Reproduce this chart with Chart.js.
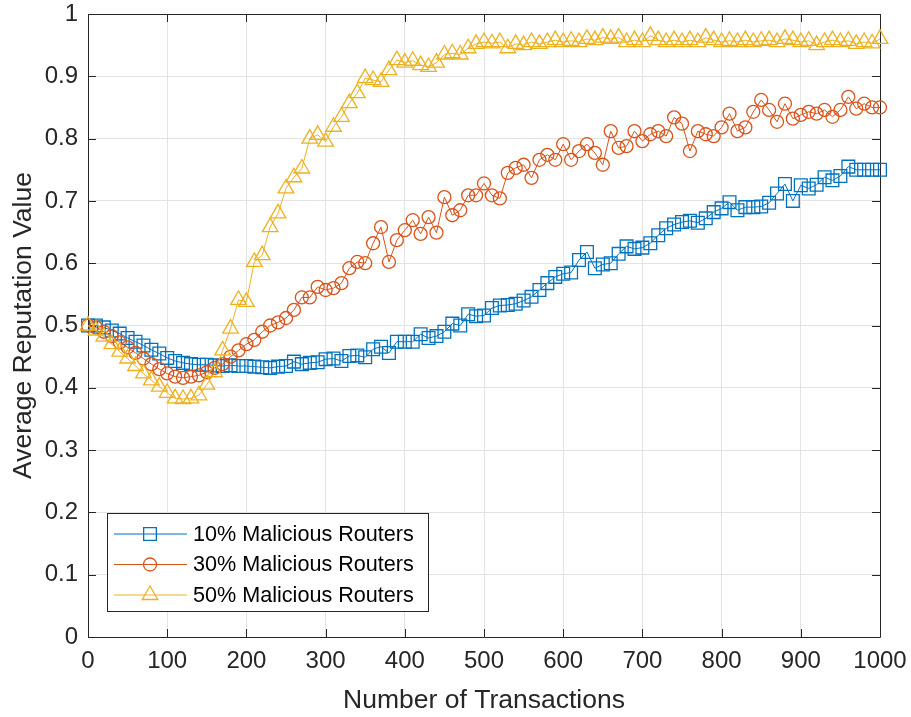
<!DOCTYPE html>
<html>
<head>
<meta charset="utf-8">
<script src="https://cdn.jsdelivr.net/npm/chart.js@4.4.1/dist/chart.umd.min.js"></script>
<style>
  html, body { margin: 0; padding: 0; background: #fff; }
  #wrap { width: 911px; height: 717px; }
</style>
</head>
<body>
<div id="wrap"><canvas id="repChart" width="911" height="717"></canvas></div>
<script>
const transactions = [0, 10, 20, 30, 40, 50, 60, 70, 80, 90, 100, 110, 120, 130, 140, 150, 160, 170, 180, 190,
  200, 210, 220, 230, 240, 250, 260, 270, 280, 290, 300, 310, 320, 330, 340, 350, 360, 370, 380, 390,
  400, 410, 420, 430, 440, 450, 460, 470, 480, 490, 500, 510, 520, 530, 540, 550, 560, 570, 580, 590,
  600, 610, 620, 630, 640, 650, 660, 670, 680, 690, 700, 710, 720, 730, 740, 750, 760, 770, 780, 790,
  800, 810, 820, 830, 840, 850, 860, 870, 880, 890, 900, 910, 920, 930, 940, 950, 960, 970, 980, 990, 1000];

// 10% malicious routers
const mal10 = [0.500, 0.500, 0.497, 0.492, 0.487, 0.480, 0.474, 0.468, 0.461, 0.455,
  0.448, 0.443, 0.440, 0.438, 0.437, 0.437, 0.436, 0.435, 0.436, 0.435,
  0.435, 0.434, 0.433, 0.432, 0.434, 0.435, 0.442, 0.438, 0.440, 0.441,
  0.446, 0.447, 0.443, 0.451, 0.452, 0.449, 0.462, 0.466, 0.456, 0.474,
  0.474, 0.474, 0.486, 0.480, 0.483, 0.490, 0.503, 0.500, 0.518, 0.515,
  0.516, 0.528, 0.532, 0.533, 0.535, 0.540, 0.546, 0.557, 0.568, 0.578,
  0.583, 0.585, 0.605, 0.618, 0.592, 0.598, 0.600, 0.615, 0.627, 0.623,
  0.625, 0.632, 0.645, 0.656, 0.662, 0.666, 0.668, 0.665, 0.672, 0.682,
  0.688, 0.698, 0.685, 0.690, 0.690, 0.691, 0.697, 0.712, 0.727, 0.700,
  0.725, 0.720, 0.726, 0.738, 0.733, 0.740, 0.755, 0.750, 0.750, 0.750, 0.750];

// 30% malicious routers
const mal30 = [0.500, 0.497, 0.490, 0.483, 0.473, 0.465, 0.456, 0.447, 0.438, 0.430,
  0.423, 0.418, 0.416, 0.418, 0.420, 0.425, 0.432, 0.438, 0.450, 0.460,
  0.470, 0.477, 0.490, 0.500, 0.505, 0.512, 0.525, 0.545, 0.545, 0.562,
  0.557, 0.560, 0.568, 0.592, 0.602, 0.600, 0.632, 0.658, 0.602, 0.637,
  0.653, 0.669, 0.647, 0.674, 0.649, 0.706, 0.677, 0.685, 0.709, 0.709,
  0.728, 0.709, 0.704, 0.745, 0.753, 0.758, 0.737, 0.766, 0.774, 0.766,
  0.791, 0.766, 0.780, 0.791, 0.777, 0.758, 0.812, 0.785, 0.788, 0.812,
  0.796, 0.807, 0.812, 0.804, 0.834, 0.824, 0.780, 0.812, 0.807, 0.804,
  0.818, 0.840, 0.812, 0.818, 0.843, 0.862, 0.846, 0.827, 0.856, 0.832,
  0.838, 0.843, 0.840, 0.846, 0.835, 0.846, 0.867, 0.848, 0.856, 0.850, 0.850];

// 50% malicious routers
const mal50 = [0.500, 0.492, 0.482, 0.470, 0.458, 0.447, 0.435, 0.423, 0.412, 0.402,
  0.392, 0.383, 0.382, 0.383, 0.388, 0.405, 0.425, 0.460, 0.495, 0.541,
  0.538, 0.602, 0.613, 0.658, 0.680, 0.720, 0.738, 0.752, 0.800, 0.806,
  0.795, 0.819, 0.835, 0.857, 0.873, 0.897, 0.894, 0.891, 0.910, 0.926,
  0.922, 0.925, 0.918, 0.915, 0.922, 0.935, 0.937, 0.935, 0.945, 0.952,
  0.955, 0.953, 0.955, 0.945, 0.952, 0.950, 0.955, 0.952, 0.955, 0.958,
  0.955, 0.957, 0.955, 0.960, 0.958, 0.962, 0.960, 0.962, 0.955, 0.958,
  0.955, 0.965, 0.958, 0.955, 0.958, 0.955, 0.958, 0.955, 0.962, 0.958,
  0.955, 0.957, 0.955, 0.958, 0.955, 0.957, 0.958, 0.955, 0.960, 0.958,
  0.955, 0.957, 0.950, 0.955, 0.958, 0.955, 0.957, 0.952, 0.955, 0.953, 0.960];

const seriesNames = ['10% Malicious Routers', '30% Malicious Routers', '50% Malicious Routers'];
const xTicks = [0, 100, 200, 300, 400, 500, 600, 700, 800, 900, 1000];
const yTicks = [0, 0.1, 0.2, 0.3, 0.4, 0.5, 0.6, 0.7, 0.8, 0.9, 1];

const FONT = "'Liberation Sans', Arial, Helvetica, sans-serif";
const INK = '#262626';
const colors = ['#0072BD', '#D95319', '#EDB120'];
const shapes = ['rect', 'circle', 'triangle'];
const radii = [9, 6.5, 9];

function toPoints(vals) {
  return transactions.map((t, i) => ({ x: t, y: vals[i] }));
}

const datasets = [mal10, mal30, mal50].map((vals, i) => ({
  label: seriesNames[i],
  data: toPoints(vals),
  borderColor: colors[i],
  backgroundColor: 'rgba(0,0,0,0)',
  borderWidth: 1,
  pointStyle: shapes[i],
  pointRadius: radii[i],
  pointBorderWidth: 1.3,
  pointBorderColor: colors[i],
  pointBackgroundColor: 'rgba(0,0,0,0)',
  tension: 0,
  clip: 14,
  order: 3 - i
}));

// box around the axes plus inward tick marks, matlab style
const boxTicks = {
  id: 'boxTicks',
  beforeDatasetsDraw(chart) {
    const { ctx, chartArea: a, scales } = chart;
    ctx.save();
    ctx.strokeStyle = INK;
    ctx.lineWidth = 1;
    ctx.beginPath();
    ctx.rect(Math.round(a.left) + 0.5, Math.round(a.top) + 0.5,
      Math.round(a.right - a.left), Math.round(a.bottom - a.top));
    ctx.stroke();
    const len = 8;
    ctx.beginPath();
    xTicks.forEach(v => {
      const px = Math.round(scales.x.getPixelForValue(v)) + 0.5;
      ctx.moveTo(px, a.bottom); ctx.lineTo(px, a.bottom - len);
      ctx.moveTo(px, a.top); ctx.lineTo(px, a.top + len);
    });
    yTicks.forEach(v => {
      const py = Math.round(scales.y.getPixelForValue(v)) + 0.5;
      ctx.moveTo(a.left, py); ctx.lineTo(a.left + len, py);
      ctx.moveTo(a.right, py); ctx.lineTo(a.right - len, py);
    });
    ctx.stroke();
    ctx.restore();
  }
};

// legend box in the lower left corner
const innerLegend = {
  id: 'innerLegend',
  afterDraw(chart) {
    const ctx = chart.ctx;
    const bx = 107.5, by = 513.5, bw = 321, bh = 98;
    ctx.save();
    ctx.fillStyle = '#fff';
    ctx.fillRect(bx, by, bw, bh);
    ctx.strokeStyle = INK;
    ctx.lineWidth = 1;
    ctx.strokeRect(bx, by, bw, bh);
    ctx.font = '21.6px ' + FONT;
    ctx.textBaseline = 'middle';
    chart.data.datasets.forEach((ds, i) => {
      const y = 534 + i * 30.5;
      ctx.strokeStyle = ds.borderColor;
      ctx.lineWidth = 1;
      ctx.beginPath();
      ctx.moveTo(114, y); ctx.lineTo(187, y);
      ctx.stroke();
      ctx.lineWidth = 1.3;
      ctx.fillStyle = 'rgba(0,0,0,0)';
      Chart.helpers.drawPoint(ctx, {
        pointStyle: ds.pointStyle, radius: ds.pointRadius, borderWidth: 1.3, rotation: 0
      }, 150, y);
      ctx.fillStyle = '#000';
      ctx.fillText(ds.label, 193, y + 1);
    });
    ctx.restore();
  }
};

new Chart(document.getElementById('repChart').getContext('2d'), {
  type: 'line',
  data: { datasets },
  options: {
    responsive: false,
    animation: false,
    events: [],
    layout: { padding: { top: 14, right: 31, left: 0, bottom: 0 } },
    plugins: {
      legend: { display: false },
      tooltip: { enabled: false }
    },
    scales: {
      x: {
        type: 'linear',
        min: 0,
        max: 1000,
        afterBuildTicks: s => { s.ticks = xTicks.map(v => ({ value: v })); },
        afterFit: s => { s.height = 80; s.paddingLeft = 0; s.paddingRight = 0; },
        grid: { color: '#e3e3e3', drawTicks: false },
        border: { display: false },
        ticks: {
          color: INK,
          font: { family: FONT, size: 24 },
          padding: 10,
          maxRotation: 0,
          autoSkip: false,
          callback: v => String(v)
        },
        title: {
          display: true,
          text: 'Number of Transactions',
          color: INK,
          font: { family: FONT, size: 26.5 },
          padding: { top: 2, bottom: 0 }
        }
      },
      y: {
        min: 0,
        max: 1,
        afterBuildTicks: s => { s.ticks = yTicks.map(v => ({ value: v })); },
        afterFit: s => { s.width = 88; s.paddingTop = 0; s.paddingBottom = 0; },
        grid: { color: '#e3e3e3', drawTicks: false },
        border: { display: false },
        ticks: {
          color: INK,
          font: { family: FONT, size: 24 },
          padding: 10,
          autoSkip: false,
          callback: v => String(Math.round(v * 10) / 10)
        },
        title: {
          display: true,
          text: 'Average Reputation Value',
          color: INK,
          font: { family: FONT, size: 26.5 },
          padding: { top: 8, bottom: 0 }
        }
      }
    }
  },
  plugins: [boxTicks, innerLegend]
});
</script>
</body>
</html>
